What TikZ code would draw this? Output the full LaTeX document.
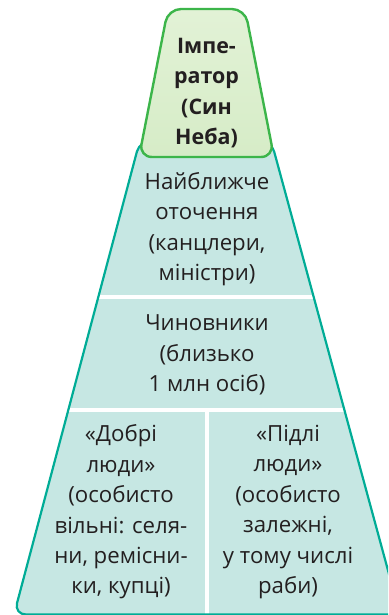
\documentclass[tikz,border=0pt]{standalone}
\usepackage{fontspec}
\setmainfont{Open Sans}
\definecolor{tealfill}{RGB}{198,231,227}
\definecolor{tealline}{RGB}{0,172,150}
\definecolor{greenfill}{RGB}{214,236,199}
\definecolor{greentop}{RGB}{226,242,214}
\definecolor{greenline}{RGB}{60,181,74}
\definecolor{txt}{RGB}{35,31,32}
\begin{document}
\begin{tikzpicture}[x=1bp,y=-1bp,
  label/.style={align=center,text=txt,inner sep=0pt,font=\fontsize{22.3}{30.5}\selectfont},
  toplabel/.style={label,font=\fontsize{21.5}{30.5}\selectfont\bfseries},
  sep/.style={white,line width=4bp}]
\useasboundingbox (0,0) rectangle (388,615);
\clip (0,0) rectangle (388,615);
% teal pyramid corners
\coordinate (tl) at (140,140);
\coordinate (tr) at (271,140);
\coordinate (br) at (400,614.5);
\coordinate (bl) at (14,614.5);
% separator ends
\coordinate (s1l) at (98,297);
\coordinate (s1r) at (314,297);
\coordinate (s2l) at (68,410);
\coordinate (s2r) at (345,410);
\coordinate (vtop) at (207,410);
\coordinate (vbot) at (207,615);
\fill[tealfill,rounded corners=12bp] (tl) -- (tr) -- (br) -- (bl) -- cycle;
\draw[sep] (s1l) -- (s1r);
\draw[sep] (s2l) -- (s2r);
\draw[sep] (vtop) -- (vbot);
\draw[tealline,line width=2.2bp,rounded corners=12bp] (tl) -- (tr) -- (br) -- (bl) -- cycle;
% green top
\coordinate (gbl) at (139,157);
\coordinate (gbr) at (274,157);
\coordinate (gtr) at (245,9);
\coordinate (gtl) at (168,9);
\shade[top color=greentop,bottom color=greenfill,rounded corners=13bp] (gbl) -- (gtl) -- (gtr) -- (gbr) -- cycle;
\draw[greenline,line width=2.4bp,rounded corners=13bp] (gbl) -- (gtl) -- (gtr) -- (gbr) -- cycle;
% labels
\node[toplabel] (emp) at (206.5,93) {Імпе-\\ратор\\(Син\\Неба)};
\node[label] (court) at (207,229) {Найближче\\оточення\\(канцлери,\\міністри)};
\node[label] (off) at (207,355) {Чиновники\\(близько\\1 млн осіб)};
\node[label] (good) at (121,512) {«Добрі\\люди»\\(особисто\\вільні: селя-\\ни, ремісни-\\ки, купці)};
\node[label] (mean) at (288,512) {«Підлі\\люди»\\(особисто\\залежні,\\у тому числі\\раби)};
\end{tikzpicture}
\end{document}
